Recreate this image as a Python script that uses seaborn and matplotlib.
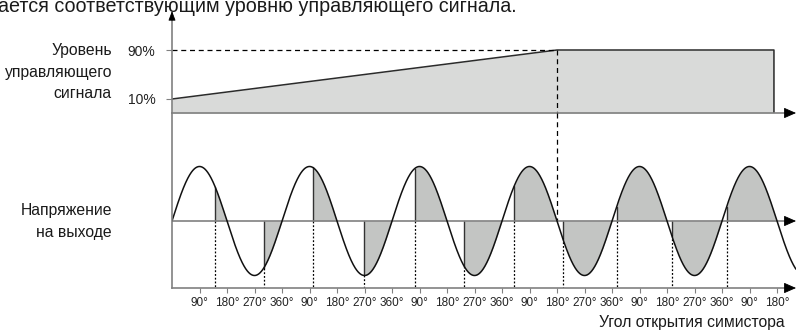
import numpy as np
import matplotlib
matplotlib.use("Agg")
import matplotlib.pyplot as plt
import seaborn as sns

# уровень управляющего сигнала: угол (градусы) -> уровень (%)
level_deg = [0, 1260, 1970]
level_pct = [10, 90, 90]
level_ticks = [10, 90]
level_labels = ["10%", "90%"]

# угол открытия симистора в каждом полупериоде (градусы от начала полупериода)
firing = [142, 121, 100, 88, 74, 55, 40, 18, 15, 15, 15]

angle_ticks = list(range(90, 1981, 90))
angle_labels = ["90°", "180°", "270°", "360°"] * 5 + ["90°", "180°"]

sns.set_theme(style="white")
plt.rcParams["font.family"] = ["Liberation Sans", "DejaVu Sans"]

W, H = 796, 332
X0 = 172
PX_DEG = 110 / 360
GREY = "#808080"
FILL_TOP = "#d9dad9"
FILL_SIN = "#c3c5c3"


def deg(px):
    return (px - X0) / PX_DEG


def pct(px):
    return 10 + (99 - px) / (49 / 80)


def volt(px):
    return (221 - px) / 54.5


def arrow(ax, xy, xytext, hl, hw, ms):
    ax.annotate("", xy=xy, xytext=xytext, annotation_clip=False,
                arrowprops=dict(arrowstyle=f"-|>,head_length={hl},head_width={hw}",
                                mutation_scale=ms, color="black", lw=0.6,
                                shrinkA=0, shrinkB=0))


fig = plt.figure(figsize=(W / 100, H / 100), dpi=100)
ax_top = fig.add_axes([X0 / W, 1 - 113 / H, 1 - X0 / W, (113 - 15) / H])
ax_bot = fig.add_axes([X0 / W, 1 - 288 / H, 1 - X0 / W, (288 - 113) / H])
XMAX = deg(W)

for ax in (ax_top, ax_bot):
    ax.set_facecolor("none")
    ax.set_xlim(0, XMAX)
    for s in ("top", "right"):
        ax.spines[s].set_visible(False)
    for s in ("left", "bottom"):
        ax.spines[s].set_color(GREY)
        ax.spines[s].set_linewidth(1.2)
    ax.spines["bottom"].set_bounds(0, deg(788))

ax_top.set_ylim(pct(113), pct(15))
ax_bot.set_ylim(volt(288), volt(113))

# --- верхняя панель: уровень управляющего сигнала ---
base = pct(113)
ax_top.fill_between(level_deg, base, level_pct, color=FILL_TOP, lw=0)
sns.lineplot(x=level_deg + [level_deg[-1]], y=level_pct + [base], ax=ax_top,
             sort=False, estimator=None, color="#2b2b2b", lw=1.1)
ax_top.plot([0, level_deg[1]], [level_pct[1]] * 2, color="black", lw=0.9, ls=(0, (4, 3)))
ax_top.plot([level_deg[1]] * 2, [level_pct[1], base], color="black", lw=0.9,
            ls=(0, (4, 3)), clip_on=False)
ax_bot.plot([level_deg[1]] * 2, [volt(113), 0], color="black", lw=0.9, ls=(0, (4, 3)))

ax_top.set_xticks([])
ax_top.set_yticks(level_ticks, level_labels)
ax_top.tick_params(axis="y", length=4, width=0.8, color=GREY, labelsize=10, pad=8,
                   labelcolor="#222222", left=True)

# --- нижняя панель: напряжение на выходе ---
x = np.linspace(0, XMAX, 3000)
v = np.sin(np.radians(x))
bottom = volt(288)
for k, a in enumerate(firing):
    f = 180 * k + a
    xs = np.linspace(f, 180 * (k + 1), 120)
    ax_bot.fill_between(xs, np.sin(np.radians(xs)), 0, color=FILL_SIN, lw=0)
    vf = np.sin(np.radians(f))
    ax_bot.plot([f, f], [0, vf], color="#333333", lw=1.0)
    ax_bot.plot([f, f], [min(vf, 0), bottom], color="black", lw=0.9, ls=(0, (1.5, 1.5)))

ax_bot.plot([0, deg(788)], [0, 0], color=GREY, lw=1.2)
sns.lineplot(x=x, y=v, ax=ax_bot, color="#111111", lw=1.1)

ax_bot.set_yticks([])
ax_bot.set_xticks(angle_ticks, angle_labels)
ax_bot.tick_params(axis="x", length=3.5, width=0.8, color=GREY, labelsize=8.5, pad=3,
                   labelcolor="#222222", bottom=True)

# стрелки осей
arrow(ax_top, (0, pct(11)), (0, pct(20)), 0.48, 0.18, 12)
arrow(ax_top, (deg(796), base), (deg(785), base), 0.5, 0.22, 15)
arrow(ax_bot, (deg(796), 0), (deg(785), 0), 0.5, 0.22, 15)
arrow(ax_bot, (deg(796), bottom), (deg(785), bottom), 0.5, 0.22, 15)


# подписи
def label(px, py, s, ha="right", size=11.3):
    fig.text(px / W, 1 - py / H, s, ha=ha, va="baseline", fontsize=size, color="#1a1a1a")


label(112, 55, "Уровень")
label(112, 77, "управляющего")
label(112, 98, "сигнала")
label(112, 215, "Напряжение")
label(112, 237, "на выходе")
label(785, 327, "Угол открытия симистора", size=11.3)
label(-2, 12, "ается соответствующим уровню управляющего сигнала.", ha="left", size=14.2)

fig.savefig("out.png", dpi=100)
